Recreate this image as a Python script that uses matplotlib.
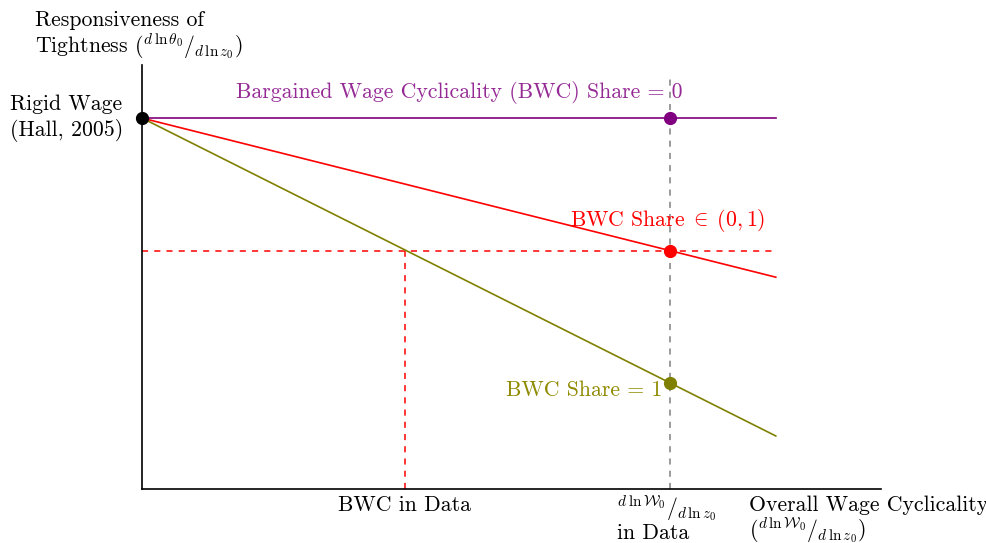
import matplotlib
matplotlib.use("Agg")
import matplotlib.pyplot as plt

plt.rcParams['font.family'] = 'serif'
plt.rcParams['font.serif'] = ['cmr10']
plt.rcParams['mathtext.fontset'] = 'cm'
plt.rcParams['axes.formatter.use_mathtext'] = True

# Data
share_names = ["Share = 0", "Share in (0,1)", "Share = 1"]
x_start, x_end = 0.0, 1.0
y_start = 1.0
y_end = [1.0, 0.571, 0.143]
colors = ["purple", "red", "#808000"]
data_x = 0.833          # overall wage cyclicality in data
bwc_data_x = 0.415      # BWC in data
x_max, y_max = 1.166, 1.143

W, H = 987, 543
fig = plt.figure(figsize=(W / 100, H / 100), dpi=100)
ax = fig.add_axes([142 / W, (H - 489) / H, (881 - 142) / W, (489 - 65) / H])
ax.set_xlim(0, x_max)
ax.set_ylim(0, y_max)
for s in ["top", "right"]:
    ax.spines[s].set_visible(False)
for s in ["left", "bottom"]:
    ax.spines[s].set_linewidth(1.2)
ax.set_xticks([])
ax.set_yticks([])

def y_at(i, x):
    return y_start + (y_end[i] - y_start) * (x - x_start) / (x_end - x_start)

# vertical gray dashed line at data
ax.plot([data_x, data_x], [0, 1.116], color="gray", ls=(0, (4, 4)), lw=1.1, zorder=1)

# red dashed lines
y_red = y_at(1, data_x)
ax.plot([0, x_end], [y_red, y_red], color="red", ls=(0, (4, 4)), lw=1.1, zorder=1)
ax.plot([bwc_data_x, bwc_data_x], [0, y_red], color="red", ls=(0, (4, 4)), lw=1.1, zorder=1)

for i in range(3):
    ax.plot([x_start, x_end], [y_start, y_end[i]], color=colors[i], lw=1.2, zorder=2)
    ax.plot([data_x], [y_at(i, data_x)], 'o', color=colors[i], ms=8.5, zorder=3, clip_on=False)

ax.plot([0], [y_start], 'o', color="black", ms=8.5, zorder=4, clip_on=False)

fs = 15.7
def fig_text(x, y, s, **kw):
    fig.text(x / W, 1 - y / H, s, fontsize=kw.pop("fontsize", fs), **kw)

fig_text(35, 20, "Responsiveness of", ha="left", va="center")
fig_text(35, 46, r"Tightness $({}^{d\,\ln\theta_0}/_{d\,\ln z_0})$", ha="left", va="center")
fig_text(10, 104, "Rigid Wage", ha="left", va="center")
fig_text(10, 131, "(Hall, 2005)", ha="left", va="center")
fig_text(236, 93, "Bargained Wage Cyclicality (BWC) Share = 0", ha="left", va="center", color="#952a95")
fig_text(765, 220, r"BWC Share$\;\in\;(0,1)$", ha="right", va="center", color=colors[1])
fig_text(662, 390, "BWC Share = 1", ha="right", va="center", color="#8f8a00")
fig_text(405, 505, "BWC in Data", ha="center", va="center")
fig_text(617, 508, r"${}^{d\,\ln\mathcal{W}_0}/_{d\,\ln z_0}$", ha="left", va="center")
fig_text(617, 533, "in Data", ha="left", va="center")
fig_text(749, 505, "Overall Wage Cyclicality", ha="left", va="center")
fig_text(749, 530, r"$({}^{d\,\ln\mathcal{W}_0}/_{d\,\ln z_0})$", ha="left", va="center")

fig.savefig("out.png", dpi=100)
